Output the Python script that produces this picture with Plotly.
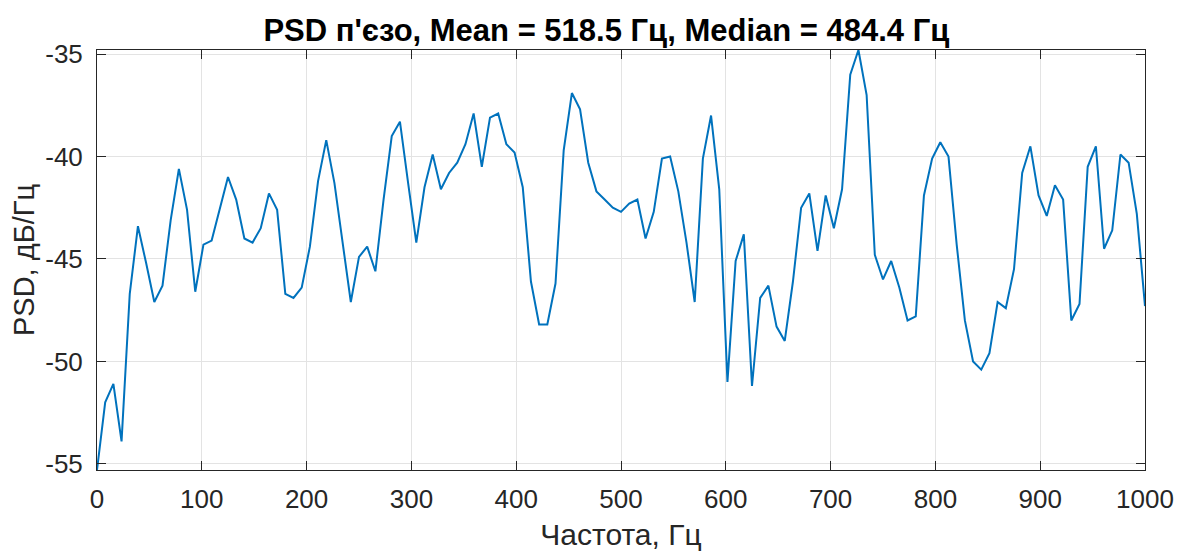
import plotly.graph_objects as go

step_hz = 7.8125
psd_db = [
    -55.3, -52.0, -51.1, -53.9, -46.7, -43.4, -45.2, -47.1, -46.3, -43.1,
    -40.6, -42.6, -46.6, -44.3, -44.1, -42.5, -41.0, -42.1, -44.0, -44.2,
    -43.5, -41.8, -42.6, -46.7, -46.9, -46.4, -44.4, -41.2, -39.2, -41.3,
    -44.1, -47.1, -44.9, -44.4, -45.6, -42.1, -39.0, -38.3, -41.3, -44.2,
    -41.5, -39.9, -41.6, -40.8, -40.3, -39.4, -37.9, -40.5, -38.1, -37.9,
    -39.4, -39.8, -41.5, -46.1, -48.2, -48.2, -46.2, -39.7, -36.9, -37.7,
    -40.3, -41.7, -42.1, -42.5, -42.7, -42.3, -42.1, -44.0, -42.7, -40.1,
    -40.0, -41.7, -44.2, -47.1, -40.1, -38.0, -41.6, -51.0, -45.1, -43.8,
    -51.2, -46.9, -46.3, -48.3, -49.0, -46.1, -42.5, -41.8, -44.6, -41.9,
    -43.5, -41.6, -36.0, -34.8, -37.0, -44.8, -46.0, -45.1, -46.4, -48.0,
    -47.8, -41.9, -40.1, -39.3, -40.0, -44.3, -48.0, -50.0, -50.4, -49.6,
    -47.1, -47.4, -45.5, -40.8, -39.5, -41.9, -42.9, -41.4, -42.1, -48.0,
    -47.2, -40.5, -39.5, -44.5, -43.6, -39.9, -40.3, -42.8, -47.3,
]
freq_hz = [i * step_hz for i in range(len(psd_db))]

title_text = "PSD п'єзо, Mean = 518.5 Гц, Median = 484.4 Гц"
x_label = "Частота, Гц"
y_label = "PSD, дБ/Гц"
x_ticks = [0, 100, 200, 300, 400, 500, 600, 700, 800, 900, 1000]
y_ticks = [-55, -50, -45, -40, -35]
y_tick_labels = ["-55", "-50", "-45", "-40", "-35"]

FONT = "Liberation Sans, Arial"

fig = go.Figure()
fig.add_trace(go.Scatter(
    x=freq_hz, y=psd_db, mode="lines",
    line=dict(color="#0072BD", width=2),
    showlegend=False, hoverinfo="skip",
))

axis_common = dict(
    showline=True, linecolor="#262626", linewidth=1, mirror="ticks",
    ticks="inside", ticklen=9, tickcolor="#262626",
    showgrid=True, gridcolor="#e3e3e3", gridwidth=1, zeroline=False,
    automargin=False,
    tickfont=dict(family=FONT, size=26, color="#262626"),
)

fig.update_layout(
    width=1189, height=551,
    margin=dict(l=97, r=44, t=50, b=81),
    paper_bgcolor="white", plot_bgcolor="white",
    title=dict(text="<b>" + title_text + "</b>", x=0.51, xanchor="center",
               y=0.946, yanchor="middle",
               font=dict(family=FONT, size=31, color="black")),
    xaxis=dict(axis_common, range=[0, 1000], tickvals=x_ticks,
               ticklabelstandoff=6,
               title=dict(text=x_label, standoff=17,
                          font=dict(family=FONT, size=30, color="#262626"))),
    yaxis=dict(axis_common, range=[min(psd_db), max(psd_db)], tickvals=y_ticks,
               ticktext=y_tick_labels,
               ticklabelstandoff=8,
               title=dict(text=y_label, standoff=2,
                          font=dict(family=FONT, size=29, color="#262626"))),
)

fig.write_html("out.html")
